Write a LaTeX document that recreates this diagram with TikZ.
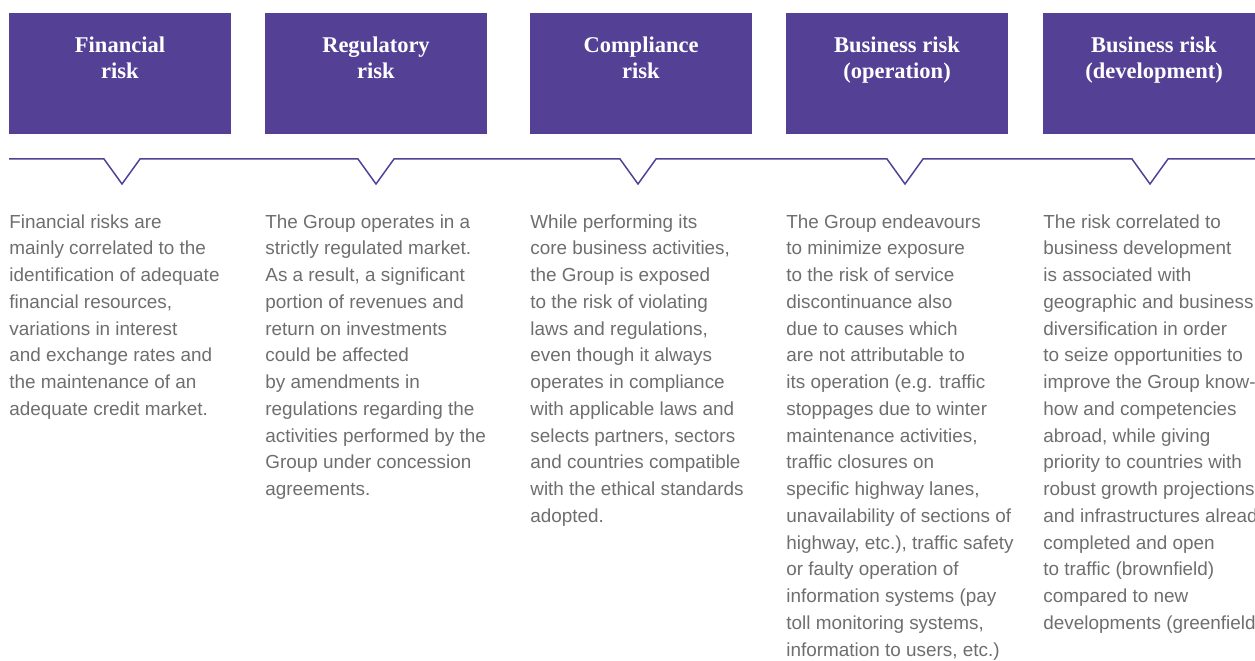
\documentclass[tikz,border=0pt]{standalone}
\usepackage{fontspec}
\setmainfont{Liberation Serif}
\setsansfont{Liberation Sans}
\usetikzlibrary{positioning,calc}
\definecolor{riskpurple}{RGB}{84,65,150}
\definecolor{bodygrey}{RGB}{110,110,110}
% one V of the rail, #1 is the tip
\newcommand{\railnotch}[1]{-- ([shift={(-9pt,12.5pt)}]#1) -- (#1) -- ([shift={(9pt,12.5pt)}]#1)}

\begin{document}
\begin{tikzpicture}[x=0.5pt,y=0.5pt,node distance=17pt]
\tikzset{riskbox/.style={fill=riskpurple,minimum width=111pt,minimum height=60.5pt,inner sep=0pt,outer sep=0pt,align=center,text=white,font=\fontsize{11.25}{13}\selectfont\bfseries,text height=33pt,text depth=27.5pt},
  riskdesc/.style={anchor=north west,inner sep=0pt,align=left,text=bodygrey,font=\sffamily\fontsize{9.45}{13.375}\selectfont},
  rail/.style={draw=riskpurple,line width=0.75pt,line join=miter}}
\useasboundingbox (0,0) rectangle (1255,660);
\clip (0,0) rectangle (1255,660);

% headers
\node[riskbox] (fin) at (120,586.5) {Financial\\risk};
\node[riskbox,right=of fin] (reg) {Regulatory\\risk};
\node[riskbox,right=21.5pt of reg] (comp) {Compliance\\risk};
\node[riskbox,right=of comp] (busop) {Business risk\\(operation)};
\node[riskbox,right=17.5pt of busop] (busdev) {Business risk\\(development)};

% rail with a notch under each header
\foreach \n/\dx in {fin/1,reg/0,comp/-1.5,busop/4,busdev/-2}
  \coordinate (\n-v) at ([xshift=\dx pt,yshift=-25pt]\n.south);
\coordinate (railstart) at ([yshift=-12.5pt]fin.south west);
\draw[rail] (railstart) \railnotch{fin-v} \railnotch{reg-v} \railnotch{comp-v}
  \railnotch{busop-v} \railnotch{busdev-v} -- ++(60pt,0);

% descriptions
\node[riskdesc] (findesc) at ([yshift=-40pt]fin.south west) {Financial risks are\\
mainly correlated to the\\
identification of adequate\\
financial resources,\\
variations in interest\\
and exchange rates and\\
the maintenance of an\\
adequate credit market.};
\node[riskdesc] (regdesc) at ([yshift=-40pt]reg.south west) {The Group operates in a\\
strictly regulated market.\\
As a result, a significant\\
portion of revenues and\\
return on investments\\
could be affected\\
by amendments in\\
regulations regarding the\\
activities performed by the\\
Group under concession\\
agreements.};
\node[riskdesc] (compdesc) at ([yshift=-40pt]comp.south west) {While performing its\\
core business activities,\\
the Group is exposed\\
to the risk of violating\\
laws and regulations,\\
even though it always\\
operates in compliance\\
with applicable laws and\\
selects partners, sectors\\
and countries compatible\\
with the ethical standards\\
adopted.};
\node[riskdesc] (busopdesc) at ([yshift=-40pt]busop.south west) {The Group endeavours\\
to minimize exposure\\
to the risk of service\\
discontinuance also\\
due to causes which\\
are not attributable to\\
its operation (e.g. traffic\\
stoppages due to winter\\
maintenance activities,\\
traffic closures on\\
specific highway lanes,\\
unavailability of sections of\\
highway, etc.), traffic safety\\
or faulty operation of\\
information systems (pay\\
toll monitoring systems,\\
information to users, etc.)};
\node[riskdesc] (busdevdesc) at ([yshift=-40pt]busdev.south west) {The risk correlated to\\
business development\\
is associated with\\
geographic and business\\
diversification in order\\
to seize opportunities to\\
improve the Group know-\\
how and competencies\\
abroad, while giving\\
priority to countries with\\
robust growth projections\\
and infrastructures already\\
completed and open\\
to traffic (brownfield)\\
compared to new\\
developments (greenfield)};
\end{tikzpicture}
\end{document}
